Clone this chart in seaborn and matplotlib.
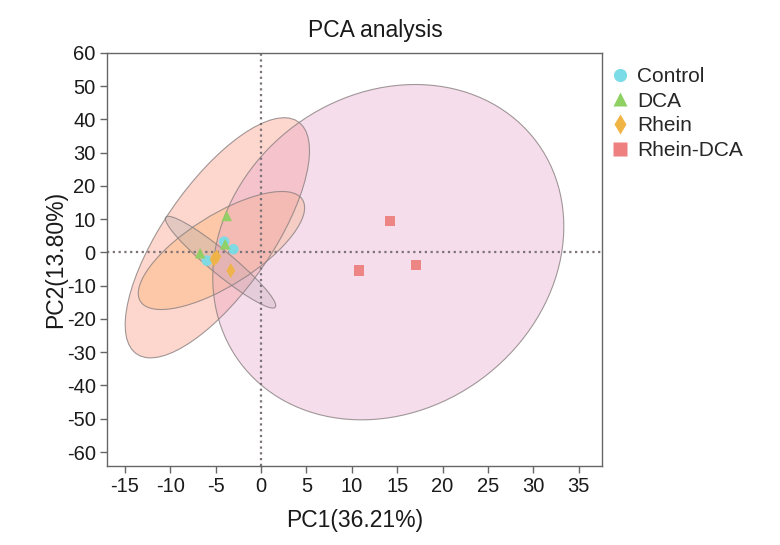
import numpy as np
import pandas as pd
import matplotlib
matplotlib.use("Agg")
import matplotlib.pyplot as plt
import seaborn as sns
from matplotlib.patches import Ellipse
from matplotlib.lines import Line2D

# PCA scores per sample group
groups = ["Control", "DCA", "Rhein", "Rhein-DCA"]
pc1_control = [-4.07, -3.05, -5.98]
pc2_control = [3.25, 0.96, -2.47]
pc1_dca = [-3.78, -3.96, -6.72]
pc2_dca = [10.98, 2.46, -0.24]
pc1_rhein = [-4.88, -5.18, -3.34]
pc2_rhein = [-1.26, -2.05, -5.47]
pc1_rhein_dca = [14.20, 10.80, 17.07]
pc2_rhein_dca = [9.47, -5.47, -3.76]

x_ticks = list(range(-15, 40, 5))
y_ticks = list(range(-60, 70, 10))

point_colors = {"Control": "#7ADCE6", "DCA": "#8FD062", "Rhein": "#F0B445", "Rhein-DCA": "#EE8080"}
markers = {"Control": "o", "DCA": "^", "Rhein": "d", "Rhein-DCA": "s"}
ellipse_fill = {"Control": ("#FFBE5C", 0.38), "DCA": ("#FB9C84", 0.40),
                "Rhein": ("#A8A8A8", 0.30), "Rhein-DCA": ("#E6A2CC", 0.36)}

df = pd.DataFrame({
    "PC1": pc1_control + pc1_dca + pc1_rhein + pc1_rhein_dca,
    "PC2": pc2_control + pc2_dca + pc2_rhein + pc2_rhein_dca,
    "Group": ["Control"] * 3 + ["DCA"] * 3 + ["Rhein"] * 3 + ["Rhein-DCA"] * 3,
})

sns.set_theme(style="white")
plt.rcParams["font.family"] = ["Liberation Sans", "DejaVu Sans"]
plt.rcParams["axes.unicode_minus"] = False

fig = plt.figure(figsize=(7.8, 5.45), dpi=100)
ax = fig.add_axes([0.137, 0.145, 0.635, 0.758])


def confidence_ellipse(x, y, level=0.95):
    """95% ellipse using radius sqrt(2 * F(level; 2, n-1))."""
    x = np.asarray(x, float)
    y = np.asarray(y, float)
    n = len(x)
    d2 = n - 1
    fq = (d2 / 2.0) * ((1 - level) ** (-2.0 / d2) - 1)
    r = np.sqrt(2 * fq)
    cov = np.cov(x, y)
    vals, vecs = np.linalg.eigh(cov)
    order = vals.argsort()[::-1]
    vals, vecs = vals[order], vecs[:, order]
    angle = np.degrees(np.arctan2(vecs[1, 0], vecs[0, 0]))
    return (x.mean(), y.mean()), 2 * r * np.sqrt(vals[0]), 2 * r * np.sqrt(vals[1]), angle


for g in groups:
    sub = df[df["Group"] == g]
    center, w, h, ang = confidence_ellipse(sub["PC1"], sub["PC2"])
    col, a = ellipse_fill[g]
    ax.add_patch(Ellipse(center, w, h, angle=ang, facecolor=col, alpha=a,
                         edgecolor="none", zorder=1))
    ax.add_patch(Ellipse(center, w, h, angle=ang, facecolor="none",
                         edgecolor="#8a8080", linewidth=0.8, alpha=0.8, zorder=1.5))

ax.axhline(0, color="#7b7378", linestyle=(0, (1, 1.6)), linewidth=1.6, zorder=2)
ax.axvline(0, color="#7b7378", linestyle=(0, (1, 1.6)), linewidth=1.6, zorder=2)

sns.scatterplot(data=df, x="PC1", y="PC2", hue="Group", style="Group",
                palette=point_colors, markers=markers, hue_order=groups,
                style_order=groups, s=58, edgecolor="none", alpha=0.95,
                legend=False, ax=ax, zorder=3)

ax.set_xlim(-17, 37.6)
ax.set_ylim(-64.2, 60)
ax.set_xticks(x_ticks)
ax.set_yticks(y_ticks)
ax.tick_params(axis="both", which="major", direction="out", length=5, width=1,
               color="#666666", labelsize=14.5, pad=3, labelcolor="#1a1a1a")
ax.tick_params(bottom=True, left=True, top=False, right=False)
for sp in ax.spines.values():
    sp.set_color("#666666")
    sp.set_linewidth(1)

ax.set_xlabel("PC1(36.21%)", fontsize=16.5, color="#1a1a1a", labelpad=9.5)
ax.set_ylabel("PC2(13.80%)", fontsize=16.5, color="#1a1a1a", labelpad=0)
fig.text(375 / 780, 1 - 31 / 545, "PCA analysis", ha="center", va="center",
         fontsize=16.5, color="#1a1a1a")

handles = [Line2D([0], [0], marker=markers[g], linestyle="none",
                  markerfacecolor=point_colors[g], markeredgecolor="none",
                  markersize=9.5 if g != "Rhein" else 10.5, label=g) for g in groups]
fig.legend(handles=handles, loc="upper left", bbox_to_anchor=(610 / 780, 1 - 67 / 545),
           frameon=False, fontsize=15, handletextpad=0.3, labelspacing=0.27,
           handlelength=1.0, borderaxespad=0, borderpad=0)

fig.savefig("out.png", dpi=100)
